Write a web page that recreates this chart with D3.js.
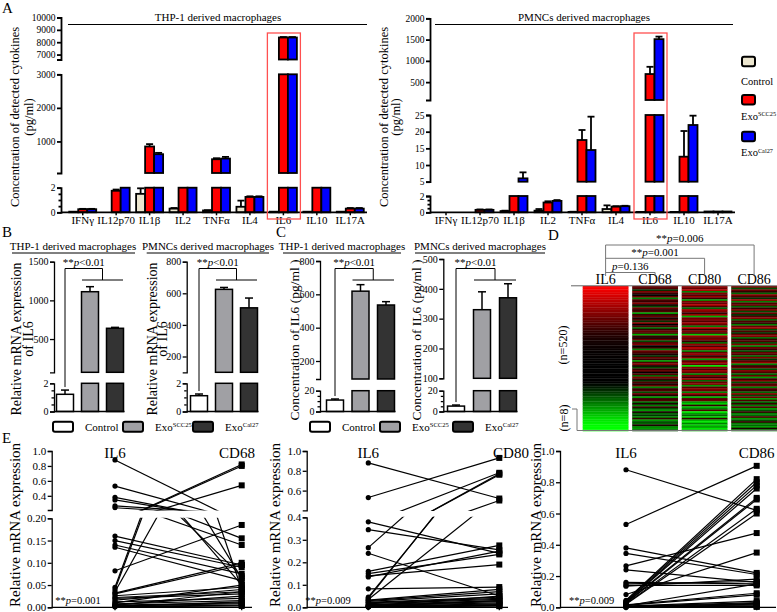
<!DOCTYPE html>
<html><head><meta charset="utf-8">
<script src="https://cdn.jsdelivr.net/npm/d3@7"></script>
<style>body{margin:0;background:#fff}</style>
</head><body><script>
// ================= DATA =================
const cytokines = ["IFNγ","IL12p70","IL1β","IL2","TNFα","IL4","IL6","IL10","IL17A"];
const groupNames = ["Control","SCC25","Cal27"];
// Panel A, THP-1 derived macrophages (pg/ml)
const thpControl    = [0.05, 0,    1.5, 0.3,  0.15, 0.45, 0.05, 0.05, 0.05];
const thpControlErr = [0,    0,    0.45,0.05, 0.02, 0.5,  0,    0,    0];
const thpSCC25      = [0.25, 1.75, 850, 10,   470,  1.25, 8380, 20,   0.3];
const thpSCC25Err   = [0.03, 0.1,  70,  0,    30,   0.05, 40,   0,    0.05];
const thpCal27      = [0.25, 2.5,  620, 10,   490,  1.25, 8380, 20,   0.3];
const thpCal27Err   = [0.03, 0,    40,  0,    50,   0.05, 40,   0,    0.05];
// Panel A, PMNCs derived macrophages (pg/ml)
const pmnControl    = [0,    0,    0.15,0.2,  0.05, 0.4,  0.05, 0.05, 0.1];
const pmnControlErr = [0,    0,    0.05,0.2,  0.02, 0.45, 0,    0,    0];
const pmnSCC25      = [0,    0.3,  3,   1.2,  17.5, 0.7,  690,  12.5, 0.1];
const pmnSCC25Err   = [0,    0.05, 0,   0.15, 3,    0.05, 170,  7.7,  0];
const pmnCal27      = [0,    0.3,  6,   1.4,  14.5, 0.75, 1510, 22,   0.1];
const pmnCal27Err   = [0,    0.05, 1.8, 0.1,  10,   0.05, 60,   2.8,  0];
// Panel B (relative mRNA of IL6) and C (IL6 pg/ml): Control, ExoSCC25, ExoCal27
const thpMRNA = [1.22, 1112, 639],  thpMRNAErr = [0.3, 65, 12];
const pmnMRNA = [1.12, 625, 508],   pmnMRNAErr = [0.12, 12, 62];
const thpIL6  = [11, 619, 536],     thpIL6Err  = [1, 39, 20];
const pmnIL6  = [5.2, 330, 370],    pmnIL6Err  = [1, 60, 47];
// Panel D heatmap (log ratio x10, rows sorted by IL6)
const heatCols = ["IL6","CD68","CD80","CD86"];
const heatIL6 = [10,9.7,9.4,9.1,8.8,8.5,8.2,7.9,7.6,7.3,7,6.7,6.4,6.1,5.8,5.5,5.2,4.9,4.6,4.3,4,3.7,3.4,3.1,2.8,2.5,2.2,1.9,1.7,1.5,1.3,1.1,0.9,0.8,0.7,0.6,0.5,0.4,0.3,0.3,0.2,0.2,0.2,0.1,0.1,0.1,0,0,0,0,0,0,0,0,0,0,0,0,0,-0.3,-0.6,-1,-1.4,-1.8,-2.2,-2.6,-3,-3.4,-3.8,-4.2,-4.6,-5,-5.4,-5.8,-6.2,-6.6,-7,-7.4,-7.8,-8.2,-8.6,-9,-9.3,-9.6,-9.8,-10,-10,-10];
const heatCD68 = [4,3,-2,5,2,0,4,-5,3,2,5,1,-3,4,2,3,-6,2,4,1,3,-2,5,0,3,-4,2,4,3,-7,2,1,4,-3,3,5,0,2,-5,4,3,1,-2,4,2,-6,3,5,1,-3,2,4,0,3,-4,5,2,-2,3,1,4,-5,2,3,-3,4,1,-6,2,3,-4,1,-5,2,-3,-6,1,-4,-2,-5,2,-6,-3,-4,1,-5,-6,-3];
const heatCD80 = [6,4,7,-5,5,3,6,2,-6,5,4,7,3,-4,6,5,2,6,-7,4,5,3,6,4,-5,7,2,5,3,-8,6,4,5,2,-4,6,3,7,5,-5,4,6,2,5,-6,3,6,4,-9,5,3,6,4,-5,5,2,6,-4,4,5,-6,3,5,4,-5,6,2,-7,3,4,-6,-8,2,-7,-5,3,-9,-6,-4,-8,2,-7,-9,-5,-8,-6,-9,-7];
const heatCD86 = [5,-3,4,2,-4,5,3,-2,6,-5,3,4,-4,2,5,-3,4,-2,3,5,-4,3,2,-5,4,6,-3,3,-2,4,5,-4,2,3,-3,5,-5,4,2,-3,4,3,-4,5,-2,3,6,-5,2,4,-3,5,3,-4,4,-6,2,5,-3,3,4,-5,3,2,-4,5,-3,4,-6,3,-4,2,-5,3,-6,-3,2,-5,-4,3,-6,-3,2,-5,-4,-6,1,-5];
// Panel E: paired relative mRNA expression per sample
const eIL6  = [0.88,0.53,0.38,0.345,0.265,0.24,0.16,0.15,0.14,0.135,0.082,0.045,0.04,0.035,0.032,0.03,0.026,0.022,0.02,0.016,0.012,0.01,0.008,0.006,0.005,0.004,0.003,0.002,0.002,0.001];
const eCD68 = [0.04,0.065,0.05,0.07,0.155,0.14,0.095,0.09,0.075,0.06,0.185,0.82,0.80,0.54,0.10,0.095,0.045,0.035,0.03,0.04,0.02,0.05,0.015,0.025,0.01,0.035,0.008,0.005,0.012,0.003];
const eCD80 = [0.52,0.93,0.24,0.255,0.78,0.05,0.275,0.235,0.19,0.25,0.09,0.76,0.77,0.5,0.08,0.07,0.06,0.045,0.04,0.035,0.03,0.025,0.02,0.05,0.015,0.01,0.03,0.008,0.005,0.012];
const eCD86 = [0.62,0.905,0.22,0.21,0.475,0.16,0.15,0.165,0.14,0.18,0.35,0.82,0.80,0.78,0.76,0.70,0.69,0.63,0.60,0.09,0.08,0.15,0.04,0.03,0.02,0.01,0.005,0.015,0.025,0.003];

// ================= HELPERS =================
const SERIF = '"Liberation Serif","Times New Roman",serif';
const svg = d3.select("body").append("svg").attr("width",777).attr("height",612)
  .attr("font-family",SERIF).style("display","block");

function txt(x,y,s,o={}){
  const t = svg.append("text").attr("font-size",o.fs||11).attr("text-anchor",o.anchor||"middle").attr("fill","#000");
  if (o.rot) t.attr("transform",`translate(${x},${y}) rotate(-90)`);
  else t.attr("x",x).attr("y",y);
  if (o.style) t.attr("font-style",o.style);
  t.text(s); return t;
}
function pText(x,y,pre,post,fs){
  const t = svg.append("text").attr("x",x).attr("y",y).attr("font-size",fs).attr("text-anchor","middle");
  t.append("tspan").text(pre); t.append("tspan").attr("font-style","italic").text("p"); t.append("tspan").text(post);
  return t;
}
function exoText(x,y,sup,fs,anchor){
  const t = svg.append("text").attr("x",x).attr("y",y).attr("font-size",fs).attr("text-anchor",anchor||"start");
  t.append("tspan").text("Exo");
  t.append("tspan").attr("font-size",fs*0.6).attr("dy",-fs*0.35).text(sup);
  return t;
}
function line(x1,y1,x2,y2,sw,col){
  return svg.append("line").attr("x1",x1).attr("y1",y1).attr("x2",x2).attr("y2",y2)
    .attr("stroke",col||"#000").attr("stroke-width",sw||1);
}
function seg(dom,rng,ticks,fmt,minor){ return {scale:d3.scaleLinear().domain(dom).range(rng),ticks,fmt,minor}; }
function yAxis(x,segs,o){
  segs.forEach(s=>{
    const g = svg.append("g").attr("transform",`translate(${x},0)`);
    g.call(d3.axisLeft(s.scale).tickValues(s.ticks).tickSize(o.ts||4).tickSizeOuter(o.to===undefined?4:o.to)
      .tickPadding(1.5).tickFormat(s.fmt||(d=>d)));
    g.attr("font-family",SERIF).attr("font-size",o.fs||10);
    g.selectAll("path,line").attr("stroke","#000").attr("stroke-width",o.lw||1.5);
    g.selectAll("text").attr("fill","#000");
    if (s.minor){
      const m = svg.append("g").attr("transform",`translate(${x},0)`);
      m.call(d3.axisLeft(s.scale).tickValues(s.minor).tickSize(2.5).tickFormat(()=>""));
      m.select(".domain").remove();
      m.selectAll("line").attr("stroke","#000").attr("stroke-width",o.lw||1.5);
    }
  });
}
function segBars(segs,x,w,v,fill,sw){
  segs.forEach(s=>{
    const [lo,hi] = s.scale.domain();
    if (v>lo){
      const y0 = s.scale(lo), y1 = s.scale(Math.min(v,hi));
      svg.append("rect").attr("x",x).attr("y",y1).attr("width",w).attr("height",Math.max(0,y0-y1))
        .attr("fill",fill).attr("stroke","#000").attr("stroke-width",sw);
    }
  });
}
function segErr(segs,cx,v,e,cap,sw){
  if (!e) return;
  const top = v+e;
  const s = segs.find(s=>top>=s.scale.domain()[0] && top<=s.scale.domain()[1]+1e-9);
  if (!s) return;
  const [lo,hi] = s.scale.domain();
  const y0 = s.scale(Math.max(v,lo)), y1 = s.scale(top);
  line(cx,y0,cx,y1,sw);
  line(cx-cap/2,y1,cx+cap/2,y1,sw);
}

// ================= PANEL A =================
txt(2,13,"A",{fs:15,anchor:"start"});
const fillsA = ["#ece6cf","#ff0000","#0000ff"];
function panelA(o){
  const x = d3.scalePoint().domain(cytokines).range(o.xr).padding(0.5);
  o.series.forEach((s,si)=>{
    cytokines.forEach((c,ci)=>{
      const v = s.vals[ci]; if (v<=0) return;
      const bx = x(c)+(si-1.5)*9;
      segBars(o.segs,bx,9,v,fillsA[si],1.8);
      segErr(o.segs,bx+4.5,v,s.errs[ci],7,1.8);
    });
  });
  yAxis(o.ax,o.segs,{fs:9.5,lw:1.8});
  const yb = o.segs[o.segs.length-1].scale(0);
  line(o.ax,yb,o.xr[1],yb,1.8);
  cytokines.forEach(c=>{ line(x(c),yb,x(c),yb+3,1.5); txt(x(c),223.5,c,{fs:11}); });
  txt(o.tx,21,o.title,{fs:11});
  line(o.lx[0],24.5,o.lx[1],24.5,1);
  const bx = x("IL6");
  svg.append("rect").attr("x",bx-16).attr("y",33).attr("width",33).attr("height",186)
    .attr("fill","none").attr("stroke","#ff5050").attr("stroke-width",1.3);
}
panelA({
  ax:61, xr:[66,367], tx:218, lx:[68,367], title:"THP-1 derived macrophages",
  segs:[
    seg([6600,10000],[59.5,17.5],[7000,8000,9000,10000]),
    seg([60,3000],[173,74.3],[1000,2000,3000]),
    seg([0,2],[212.3,187.7],[0,2],null,[0.5,1,1.5])
  ],
  series:[{vals:thpControl,errs:thpControlErr},{vals:thpSCC25,errs:thpSCC25Err},{vals:thpCal27,errs:thpCal27Err}]
});
panelA({
  ax:430, xr:[429,735], tx:584, lx:[435,733], title:"PMNCs derived macrophages",
  segs:[
    seg([80,2000],[100,18.3],[500,1000,1500,2000]),
    seg([5,25],[181.7,115],[5,10,15,20,25]),
    seg([0,2],[212.3,196],[0,2],null,[0.5,1,1.5])
  ],
  series:[{vals:pmnControl,errs:pmnControlErr},{vals:pmnSCC25,errs:pmnSCC25Err},{vals:pmnCal27,errs:pmnCal27Err}]
});
txt(18.5,117,"Concentration of detected cytokines",{fs:12.5,rot:true});
txt(32.5,117,"(pg/ml)",{fs:12.5,rot:true});
txt(388,117,"Concentration of detected cytokines",{fs:12.5,rot:true});
txt(399.5,117,"(pg/ml)",{fs:12.5,rot:true});
[[56.7,"Control"],[95,"SCC25"],[131.7,"Cal27"]].forEach((d,i)=>{
  svg.append("rect").attr("x",742).attr("y",d[0]).attr("width",13).attr("height",9.5).attr("rx",2)
    .attr("fill",fillsA[i]).attr("stroke","#000").attr("stroke-width",2);
  if (i===0) txt(741,85,"Control",{fs:10.5,anchor:"start"});
  else exoText(741,d[0]+24.5,d[1],10.5);
});

// ================= PANELS B & C =================
txt(2,237,"B",{fs:15,anchor:"start"});
txt(276,237,"C",{fs:15,anchor:"start"});
const fillsB = ["#ffffff","#a0a0a4","#333333"];
function panelBC(o){
  const x = d3.scalePoint().domain(groupNames).range([o.ax+o.off,o.ax+o.off+o.step*2]);
  const bw = 17;
  groupNames.forEach((g,i)=>{
    segBars(o.segs,x(g)-bw/2,bw,o.vals[i],fillsB[i],1.5);
    segErr(o.segs,x(g),o.vals[i],o.errs[i],8,1.5);
  });
  yAxis(o.ax,o.segs,{fs:10,lw:1.3});
  const yb = o.segs[1].scale(0);
  line(o.ax,yb,x(groupNames[2])+bw/2+1,yb,1.3);
  txt(o.tx,250,o.title,{fs:11});
  line(o.lx[0],253,o.lx[1],253,1);
  const c0 = x(groupNames[0]), c1 = x(groupNames[1]), c2 = x(groupNames[2]);
  const mid = (c1+c2)/2;
  pText((c0+mid)/2,265.5,"**","<0.01",11);
  const yTopCtrl = o.segs[1].scale(o.vals[0]+o.errs[0]) - 3;
  svg.append("path").attr("d",`M${c0},${yTopCtrl}V268.5H${mid}V280`).attr("fill","none").attr("stroke","#000").attr("stroke-width",1);
  line(c1-8,280,c2+8,280,1);
  o.ylab.forEach((l,i)=>txt(o.lbx[i],o.lby,l,{fs:o.lfs||14,rot:true}));
}
panelBC({ax:54, off:11, step:25, vals:thpMRNA, errs:thpMRNAErr, tx:73, lx:[12,135], title:"THP-1 derived macrophages",
  segs:[seg([70,1500],[372.3,261.7],[500,1000,1500]), seg([0,2],[411.5,383.3],[0,2],null,[0.5,1,1.5])],
  ylab:["Relative mRNA expression","of IL6"], lbx:[20.5,33], lby:339});
panelBC({ax:186.7, off:12.3, step:25, vals:pmnMRNA, errs:pmnMRNAErr, tx:208, lx:[146.7,269], title:"PMNCs derived macrophages",
  segs:[seg([100,800],[372.3,261.7],[200,400,600,800]), seg([0,2],[411.5,383.3],[0,2],null,[0.5,1,1.5])],
  ylab:["Relative mRNA expression","of IL6"], lbx:[157,167], lby:339});
panelBC({ax:320, off:15, step:25.5, vals:thpIL6, errs:thpIL6Err, tx:342, lx:[283,401], title:"THP-1 derived macrophages",
  segs:[seg([92,800],[379,261],[200,400,600,800]), seg([0,20],[411.5,390.7],[0,20],null,[5,10,15])],
  ylab:["Concentration of IL6 (pg/ml )"], lbx:[299], lby:340, lfs:13.5});
panelBC({ax:443.3, off:12.7, step:26, vals:pmnIL6, errs:pmnIL6Err, tx:480, lx:[415,545], title:"PMNCs derived macrophages",
  segs:[seg([100,500],[378.3,259],[100,200,300,400,500]), seg([0,20],[411.5,390.7],[0,20],null,[5,10,15])],
  ylab:["Concentration of IL6 (pg/ml )"], lbx:[421], lby:340, lfs:13.5});
function legendBC(x0,xs){
  ["Control","SCC25","Cal27"].forEach((n,i)=>{
    svg.append("rect").attr("x",x0+xs[i]).attr("y",421.7).attr("width",20).attr("height",10).attr("rx",2)
      .attr("fill",fillsB[i]).attr("stroke","#000").attr("stroke-width",2);
    if (i===0) txt(x0+xs[i]+32,430.5,"Control",{fs:11,anchor:"start"});
    else exoText(x0+xs[i]+32,430.5,n,11);
  });
}
legendBC(53,[0,70,140]);
legendBC(310,[0,70,143]);

// ================= PANEL D =================
txt(548,240,"D",{fs:15,anchor:"start"});
const heatColor = d3.scaleLinear().domain([-10,0,10]).range(["#00ff00","#000000","#ff0000"]).clamp(true);
const hx = d3.scaleBand().domain(heatCols).range([582.7,777]).paddingInner(0.075);
const heatData = {IL6:heatIL6, CD68:heatCD68, CD80:heatCD80, CD86:heatCD86};
heatCols.forEach(c=>{
  const arr = heatData[c];
  const hy = d3.scaleBand().domain(d3.range(arr.length)).range([286,431]);
  arr.forEach((v,i)=>{
    svg.append("rect").attr("x",hx(c)).attr("y",hy(i)).attr("width",hx.bandwidth()).attr("height",hy.bandwidth()+0.3)
      .attr("fill",heatColor(v));
  });
  txt(hx(c)+hx.bandwidth()/2,284,c,{fs:14});
});
line(571,285.8,777,285.8,1,"#666");
svg.append("path").attr("d","M572,409H577V430.5H777").attr("fill","none").attr("stroke","#777").attr("stroke-width",1);
txt(567,345,"(n=520)",{fs:12,rot:true});
txt(568,418,"(n=8)",{fs:12,rot:true});
const cIL6 = hx("IL6")+hx.bandwidth()/2;
const brk = [[272.5,hx("CD68")+hx.bandwidth()/2,"","=0.136",270],[258.3,hx("CD80")+hx.bandwidth()/2,"**","=0.001",255.7],[245,hx("CD86")+hx.bandwidth()/2,"**","=0.006",241.7]];
line(cIL6,245,cIL6,276,1,"#777");
brk.forEach(b=>{
  svg.append("path").attr("d",`M${cIL6},${b[0]}H${b[1]}V275.5`).attr("fill","none").attr("stroke","#777").attr("stroke-width",1);
  pText((cIL6+b[1])/2,b[4],b[2],b[3],11);
});

// ================= PANEL E =================
txt(2,443,"E",{fs:15,anchor:"start"});
function panelE(o){
  const x = d3.scalePoint().domain(["IL6",o.name]).range([o.x1,o.x2]);
  const pairs = eIL6.map((v,i)=>[v,o.vals[i]]);
  o.segs.forEach((s,si)=>{
    const [lo,hi] = s.scale.domain();
    const id = "clip"+o.name+si;
    svg.append("clipPath").attr("id",id).append("rect")
      .attr("x",o.ax).attr("y",s.scale(hi)-0.5).attr("width",o.xe-o.ax).attr("height",s.scale(lo)-s.scale(hi)+1);
    const g = svg.append("g").attr("clip-path",`url(#${id})`);
    pairs.forEach(p=>{
      g.append("line").attr("x1",x("IL6")).attr("y1",s.scale(p[0])).attr("x2",x(o.name)).attr("y2",s.scale(p[1]))
        .attr("stroke","#000").attr("stroke-width",1.2);
    });
  });
  const segOf = v=>o.segs.find(s=>v>=s.scale.domain()[0] && v<=s.scale.domain()[1]);
  pairs.forEach(p=>{
    const s0 = segOf(p[0]), s1 = segOf(p[1]);
    if (s0) svg.append("circle").attr("cx",x("IL6")).attr("cy",s0.scale(p[0])).attr("r",2.6).attr("fill","#000");
    if (s1) svg.append("rect").attr("x",x(o.name)-3).attr("y",s1.scale(p[1])-3).attr("width",6).attr("height",6).attr("fill","#000");
  });
  yAxis(o.ax,o.segs,{fs:11,lw:1.3});
  const yb = o.segs[o.segs.length-1].scale(0);
  line(o.ax,yb,o.xe,yb,1.3);
  [x("IL6"),x(o.name)].forEach(xx=>line(xx,yb,xx,yb+3,1.3));
  txt(x("IL6"),458,"IL6",{fs:15});
  txt(o.nx,458,o.name,{fs:15});
  pText(o.px,604,"**",o.p,10.5);
  txt(o.lbx,525,"Relative mRNA expression",{fs:15,rot:true});
}
const f1 = d3.format(".1f"), f2 = d3.format(".2f");
panelE({name:"CD68", vals:eCD68, ax:51.7, x1:115, x2:241.7, xe:252, nx:237, px:78, p:"=0.001", lbx:20,
  segs:[seg([0.21,1],[510,451],[0.4,0.6,0.8,1.0],f1), seg([0,0.2],[607.3,518.3],[0,0.05,0.1,0.15,0.2],f2)]});
panelE({name:"CD80", vals:eCD80, ax:306.7, x1:368.3, x2:499.3, xe:508, nx:511, px:328, p:"=0.009", lbx:280,
  segs:[seg([0.4,1],[510.4,451],[0.6,0.8,1.0],f1), seg([0,0.4],[607.3,517.3],[0,0.1,0.2,0.3,0.4],f1)]});
panelE({name:"CD86", vals:eCD86, ax:560, x1:626, x2:756.7, xe:776, nx:756.7, px:591.7, p:"=0.009", lbx:541,
  segs:[seg([0,1],[607.3,451],[0,0.2,0.4,0.6,0.8,1.0],f1)]});
</script></body></html>
